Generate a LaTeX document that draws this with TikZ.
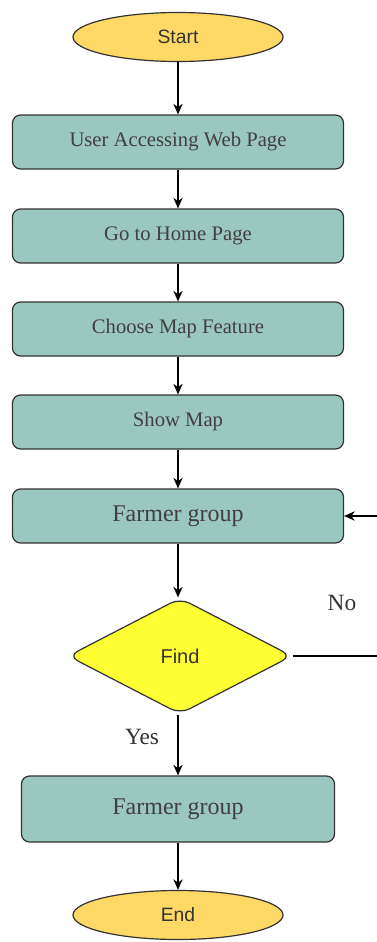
\documentclass[tikz,border=0pt]{standalone}
\usepackage{fontspec}
\setmainfont{Liberation Serif}
\newfontfamily\arialfont{Liberation Sans}
\usetikzlibrary{shapes.geometric,arrows.meta}
\definecolor{boxfill}{HTML}{9AC7BF}
\definecolor{ovalfill}{HTML}{FFD966}
\definecolor{findfill}{HTML}{FFFF33}
\definecolor{edge}{HTML}{333333}

\begin{document}
\begin{tikzpicture}[x=0.75pt,y=-0.75pt,
    terminal/.style={ellipse,draw=edge,line width=0.9pt,fill=ovalfill,
      minimum width=157.5pt,minimum height=36.75pt,inner sep=0pt,
      font=\arialfont\fontsize{14.5}{16}\selectfont,text=black!80},
    stepbox/.style={rectangle,rounded corners=6pt,draw=edge,line width=0.9pt,
      fill=boxfill,minimum width=248.25pt,minimum height=40.5pt,inner sep=0pt,
      font=\fontsize{15.5}{18}\selectfont,text=black!75},
    decision/.style={diamond,rounded corners=8pt,draw=edge,line width=0.9pt,
      fill=findfill,minimum width=168pt,minimum height=87pt,inner sep=0pt,
      font=\arialfont\fontsize{15}{17}\selectfont,text=black!80},
    flow/.style={-{Stealth[length=8pt,width=7pt]},line width=1pt,black},
    tag/.style={font=\fontsize{17.5}{20}\selectfont,text=black!80}]
    \clip (0,0) rectangle (377,942);
    \useasboundingbox (0,0) rectangle (377,942);
    % nodes
    \node[terminal] (start) at (178,37) {Start};
    \node[stepbox] (access) at (178,142) {User Accessing Web Page};
    \node[stepbox] (home) at (178,236) {Go to Home Page};
    \node[stepbox] (feature) at (178,329) {Choose Map Feature};
    \node[stepbox] (showmap) at (178,422) {Show Map};
    \node[stepbox,font=\fontsize{18}{20}\selectfont] (group) at (178,516) {Farmer group};
    \node[decision] (find) at (180,656) {Find};
    \node[stepbox,minimum width=234.75pt,minimum height=49.5pt,
      font=\fontsize{18}{20}\selectfont] (result) at (178,809) {Farmer group};
    \node[terminal] (end) at (178,915) {End};
    \coordinate (back) at (392,656);
    % connectors
    \draw[flow] (start) -- (access);
    \draw[flow] (access) -- (home);
    \draw[flow] (home) -- (feature);
    \draw[flow] (feature) -- (showmap);
    \draw[flow] (showmap) -- (group);
    \draw[flow] (group) -- (group.south |- find.north);
    \draw[flow] (find.south -| result.north) -- (result);
    \draw[flow] (result) -- (end);
    \draw[flow] (find.east) -- (back) |- (group.east);
    % labels
    \node[tag] (no) at (342,603) {No};
    \node[tag] (yes) at (142,737) {Yes};
  \end{tikzpicture}
\end{document}
